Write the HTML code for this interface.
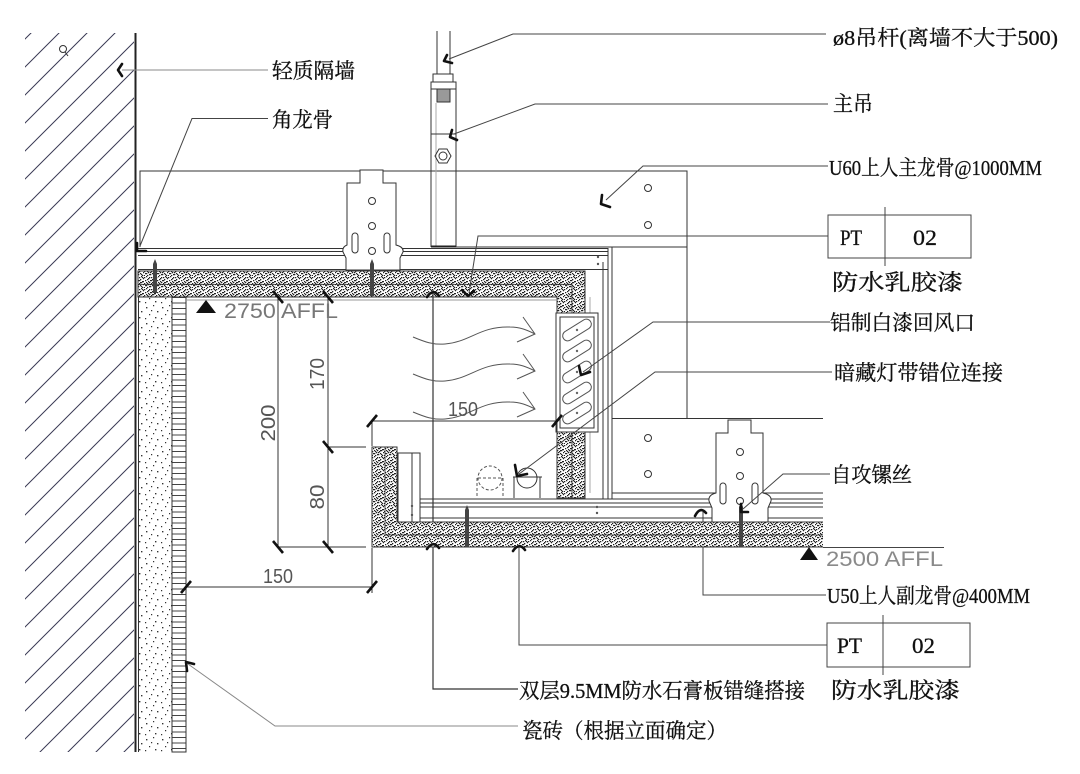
<!DOCTYPE html>
<html><head><meta charset="utf-8"><style>
html,body{margin:0;padding:0;background:#fff;}
svg{display:block;}
.l{stroke:#333;stroke-width:1;fill:none}
.lg{stroke:#888;stroke-width:1;fill:none}
.ld{stroke:#444;stroke-width:1;fill:none}
.ar{stroke:#111;stroke-width:2.6;fill:none;stroke-linecap:round;stroke-linejoin:round}
.tk{stroke:#111;stroke-width:2.6;fill:none;stroke-linecap:butt}
.t{font-family:"Liberation Serif","Noto Serif CJK SC",serif;font-size:21px;fill:#111;stroke:#111;stroke-width:0.3}
.g{font-family:"Liberation Sans","DejaVu Sans",sans-serif;fill:#8a8a8a;font-size:21px}
.d{font-family:"Liberation Sans","DejaVu Sans",sans-serif;fill:#555;font-size:20px}
</style></head><body>
<svg width="1080" height="774" viewBox="0 0 1080 774" xmlns="http://www.w3.org/2000/svg">
<defs>
<pattern id="hatch" width="28" height="28" patternUnits="userSpaceOnUse" patternTransform="translate(8,0)">
<path d="M-2,30 L30,-2 M-16,16 L16,-16 M12,44 L44,12" stroke="#3a3a55" stroke-width="1"/>
</pattern>
<pattern id="sp" width="12" height="12" patternUnits="userSpaceOnUse">
<rect width="12" height="12" fill="#fff"/>
<path fill="#222" d="M0 1h1.3v1.3h-1.3zM2 0h1.3v1.3h-1.3zM4 2h1.3v1.3h-1.3zM7 1h1.3v1.3h-1.3zM9 0h1.3v1.3h-1.3zM11 2h1v1.3h-1zM1 4h1.3v1.3h-1.3zM3 3h1.3v1.3h-1.3zM6 4h1.3v1.3h-1.3zM8 3h1.3v1.3h-1.3zM10 5h1.3v1.3h-1.3zM0 7h1.3v1.3h-1.3zM2 6h1.3v1.3h-1.3zM5 6h1.3v1.3h-1.3zM7 7h1.3v1.3h-1.3zM9 6h1.3v1.3h-1.3zM11 8h1v1.3h-1zM1 9h1.3v1.3h-1.3zM4 8h1.3v1.3h-1.3zM6 10h1.3v1.3h-1.3zM8 9h1.3v1.3h-1.3zM10 11h1.3v1h-1.3zM3 11h1.3v1h-1.3zM5 1h1.3v1.3h-1.3zM7 4h1.3v1.3h-1.3zM2 9h1.3v1.3h-1.3zM9 10h1.3v1.3h-1.3zM11 5h1v1.3h-1zM4 5h1.3v1.3h-1.3zM6 8h1.3v1.3h-1.3zM8 6h1.3v1.3h-1.3zM3 7h1.3v1.3h-1.3zM10 1h1.3v1.3h-1.3zM5 10h1.3v1.3h-1.3zM0 11h1v1h-1z"/>
</pattern>
<pattern id="pl" width="16" height="16" patternUnits="userSpaceOnUse">
<rect width="16" height="16" fill="#fff"/>
<path fill="#333" d="M2 3h1.4v1.4h-1.4zM9 1h1.2v1.2h-1.2zM13 7h1.4v1.4h-1.4zM5 10h1.2v1.2h-1.2zM11 13h1.4v1.4h-1.4zM1 14h1.2v1.2h-1.2zM7 6h1.2v1.2h-1.2z"/>
</pattern>
<pattern id="tl" width="14" height="5.5" patternUnits="userSpaceOnUse" patternTransform="translate(172,297)">
<rect width="14" height="5.5" fill="#fff"/>
<path d="M0,0.5 H14" stroke="#444" stroke-width="1"/>
</pattern>
</defs>

<!-- wall hatch -->
<rect x="25" y="33" width="109" height="719" fill="url(#hatch)"/>
<circle cx="63" cy="49" r="3.5" class="l"/>
<path d="M65,52 L68,56" class="l"/>
<path d="M135.5,33 V752" stroke="#222" stroke-width="2" fill="none"/>
<path d="M138.5,297 V752" class="l"/>

<!-- left finishes -->
<rect x="139" y="297" width="33" height="455" fill="url(#pl)"/>
<rect x="172" y="297" width="14" height="455" fill="url(#tl)" stroke="#333" stroke-width="1"/>

<!-- upper main keel -->
<path d="M140,247 V171 H687 V418" class="l"/>
<path d="M456,247 H687" class="l"/>
<circle cx="648" cy="188" r="3.5" class="l"/>
<circle cx="648" cy="225" r="3.5" class="l"/>

<!-- upper channel -->
<path d="M138,248.5 H608 M138,251.5 H608 M138,255.5 H608 M138,269.5 H608 M608,248 V270" class="l"/>
<circle cx="598" cy="257" r="1.2" fill="#555"/><circle cx="598" cy="264" r="1.2" fill="#555"/>
<path d="M137,243 V251 H146" class="ar"/>

<!-- hanger rod & hanger -->
<path d="M437,31 V74 M450,31 V74" class="l"/>
<rect x="433" y="74" width="20" height="8" class="l" style="fill:#fff"/>
<rect x="431" y="82" width="25" height="7" class="l" style="fill:#fff"/>
<rect x="437" y="89" width="13" height="13" style="fill:#999;stroke:#333"/>
<path d="M431,89 V247 M456,89 V247" class="l"/>
<path d="M436,103 V247" stroke="#aaa" fill="none"/>
<path d="M431,134 H456" class="l"/>
<polygon points="451,156 447,163 439,163 435,156 439,149 447,149" class="l"/>
<circle cx="443" cy="156" r="4" class="l"/>
<path d="M431,246.5 H456" stroke="#222" stroke-width="2"/>

<!-- upper clip -->
<path d="M360,170 H383 V183 H396 V245 Q404,247 403,252 L400,258 V270 H346 V258 L343,252 Q342,247 347,245 V183 H360 Z" class="l" style="fill:#fff"/>
<circle cx="372" cy="201" r="3.5" class="l"/>
<circle cx="372" cy="226" r="3.5" class="l"/>
<circle cx="372" cy="251" r="3.5" class="l"/>
<rect x="352" y="233" width="6" height="20" rx="3" class="l"/>
<rect x="384" y="233" width="6" height="20" rx="3" class="l"/>

<!-- vertical channel right of soffit -->
<path d="M603,262 V499 M608,262 V499 M612,247 V499" class="l"/>
<path d="M590,297 V493" stroke="#aaa" fill="none"/>

<!-- upper boards -->
<path d="M138,271 H585 V498 H557 V297 H138 Z" class="l" style="fill:url(#sp)"/>
<path d="M138,284.5 H572 V498" stroke="#222" stroke-width="0.8" fill="none"/>
<path d="M186,300 H557" stroke="#999" fill="none"/>

<!-- upper screws -->
<path d="M155,259 L157,264 V293 H153 V264 Z" fill="#444"/>
<path d="M372,259 L374,264 V296 H370 V264 Z" fill="#444"/>

<!-- grille -->
<rect x="556" y="313" width="42" height="119" class="l" style="fill:#fff"/>
<rect x="560" y="317" width="34" height="111" class="l"/>
<g fill="none" stroke="#555" stroke-width="1">
<rect x="-16" y="-5" width="32" height="10" rx="5" transform="translate(577,330) rotate(-32)"/>
<rect x="-16" y="-5" width="32" height="10" rx="5" transform="translate(577,351) rotate(-32)"/>
<rect x="-16" y="-5" width="32" height="10" rx="5" transform="translate(577,372) rotate(-32)"/>
<rect x="-16" y="-5" width="32" height="10" rx="5" transform="translate(577,393) rotate(-32)"/>
<rect x="-16" y="-5" width="32" height="10" rx="5" transform="translate(577,413) rotate(-32)"/>
</g>
<g fill="#666"><circle cx="577" cy="330" r="1.2"/><circle cx="577" cy="351" r="1.2"/><circle cx="577" cy="372" r="1.2"/><circle cx="577" cy="393" r="1.2"/><circle cx="577" cy="413" r="1.2"/></g>

<!-- lower main keel -->
<path d="M612,418.5 H823 M612,493 H823" class="l"/>
<circle cx="648" cy="438" r="3.5" class="l"/>
<circle cx="648" cy="474" r="3.5" class="l"/>

<!-- leaders (behind boards) -->
<path d="M703,512 V595 H826" class="ld"/>
<path d="M519,547 V645 H827" class="ld"/>
<path d="M433,290 V689 H518" stroke="#333" stroke-width="1.2" fill="none"/>

<!-- lower channel -->
<path d="M420,499 H823 M420,503 H823 M420,507 H823 M420,518 H823" class="l"/>
<circle cx="597" cy="507" r="1.2" fill="#555"/><circle cx="597" cy="513" r="1.2" fill="#555"/>
<rect x="398" y="453" width="22" height="70" class="l" style="fill:#fff"/>
<path d="M412,453 V522" class="l"/>
<circle cx="412" cy="506" r="1.2" fill="#555"/><circle cx="412" cy="515" r="1.2" fill="#555"/>

<!-- lower clip -->
<path d="M728,420 H751 V433 H763 V493 Q772,495 771,501 L768,508 V522 H712 V508 L709,501 Q708,495 716,493 V433 H728 Z" class="l" style="fill:#fff"/>
<circle cx="740" cy="452" r="3.5" class="l"/>
<circle cx="740" cy="476" r="3.5" class="l"/>
<circle cx="740" cy="501" r="3.5" class="l"/>
<rect x="720" y="483" width="6" height="21" rx="3" class="l"/>
<rect x="752" y="483" width="6" height="21" rx="3" class="l"/>

<!-- lower boards -->
<path d="M372,447 H397 V522 H823 V547 H372 Z" fill="url(#sp)"/>
<path d="M823,522 H397 V447 H372 V547 H823" class="l"/>
<path d="M385,447 V535 H823" stroke="#222" stroke-width="0.8" fill="none"/>

<!-- lower screws -->
<path d="M467,505 L469,510 V547 H465 V510 Z" fill="#444"/>
<path d="M741,502 L743,507 V547 H739 V507 Z" fill="#444"/>

<!-- light fixture -->
<circle cx="490" cy="478" r="12" fill="none" stroke="#555" stroke-dasharray="3,2"/>
<path d="M477,478 V498 M503,478 V498 M478,478 H502" stroke="#555" stroke-dasharray="3,2" fill="none"/>
<circle cx="527" cy="478" r="10" class="l"/>
<path d="M513,477 H542 M514,477 V498 M540,477 V498" class="l"/>

<!-- airflow -->
<g fill="none" stroke="#555" stroke-width="1">
<path d="M413,337 C425,342 433,345 445,344 C470,342 480,326 510,327 C520,327 527,330 535,334 M523,317 L535,334 L517,342"/>
<path d="M413,374 C425,379 433,382 445,381 C470,379 480,363 510,364 C520,364 527,367 535,371 M523,354 L535,371 L517,379"/>
<path d="M413,412 C425,417 433,420 445,419 C470,417 480,401 510,402 C520,402 527,405 535,409 M523,392 L535,409 L517,417"/>
</g>

<!-- dimensions -->
<g class="l" stroke="#555">
<path d="M278,297 V547 M328,297 V547 M278,547 H366 M328,447 H366"/>
<path d="M372,421 H557 M372,421 V446 M557,421 V432"/>
<path d="M186,587 H372 M372,548 V593"/>
</g>
<g class="tk">
<path d="M273,291 L283,303 M323,291 L333,303 M323,441 L333,453 M273,541 L283,553 M323,541 L333,553"/>
<path d="M367,427 L377,415 M552,427 L562,415 M181,593 L191,581 M367,593 L377,581"/>
</g>
<text class="d" text-anchor="middle" textLength="37" lengthAdjust="spacingAndGlyphs" transform="translate(275,423) rotate(-90)">200</text>
<text class="d" text-anchor="middle" textLength="32" lengthAdjust="spacingAndGlyphs" transform="translate(324,374) rotate(-90)">170</text>
<text class="d" text-anchor="middle" textLength="25" lengthAdjust="spacingAndGlyphs" transform="translate(324,497) rotate(-90)">80</text>
<text class="d" x="448" y="416" textLength="30" lengthAdjust="spacingAndGlyphs">150</text>
<text class="d" x="263" y="583" textLength="30" lengthAdjust="spacingAndGlyphs">150</text>

<!-- level marks -->
<polygon points="206,300 196,313 216,313" fill="#111"/>
<text class="g" x="224" y="318" textLength="114" lengthAdjust="spacingAndGlyphs" style="fill:#777">2750 AFFL</text>
<path d="M823,547.5 H944" class="ld"/>
<polygon points="809,547 800,560 818,560" fill="#111"/>
<text class="g" x="826" y="566" textLength="117" lengthAdjust="spacingAndGlyphs">2500 AFFL</text>

<!-- leader lines -->
<path d="M122,70 H268" class="lg"/>
<path d="M268,118.5 H192 L140,246" class="ld"/>
<path d="M449,59 L513,34 H826" class="ld"/>
<path d="M454,134 L535,104 H828" class="ld"/>
<path d="M606,200 L643,166 H828" class="ld"/>
<path d="M469,293 L478,236 H828" class="ld"/>
<path d="M583,372 L653,322 H830" class="ld"/>
<path d="M519,474 L655,372 H832" class="ld"/>
<path d="M743,509 L783,474 H830" class="ld"/>
<path d="M188,664 L275,726 H518" class="lg"/>

<!-- arrowheads -->
<path d="M122,64 L118,70 L122,76" class="ar"/>
<path d="M447,55 L444,61 L452,63" class="ar"/>
<path d="M452,130 L450,137 L457,140" class="ar"/>
<path d="M602,195 L601,204 L610,207" class="ar"/>
<path d="M462,290 L468,296 L474,291" class="ar"/>
<path d="M427,297 Q433,288 439,296" class="ar"/>
<path d="M427,549 Q433,540 439,548" class="ar"/>
<path d="M513,551 Q519,542 525,550" class="ar"/>
<path d="M695,516 Q700,506 706,513" class="ar"/>
<path d="M579,366 L581,375 L590,372" class="ar"/>
<path d="M515,465 L517,476 L527,474" class="ar"/>
<path d="M741,504 L741,512 L748,512" class="ar"/>
<path d="M187,671 L186,662 L194,664" class="ar"/>

<!-- PT boxes -->
<rect x="828" y="215" width="143" height="43" class="ld"/>
<path d="M885,207 V266" class="ld"/>
<rect x="827" y="623" width="143" height="44" class="ld"/>
<path d="M883,615 V675" class="ld"/>

<!-- labels -->
<text class="t" x="272" y="78" textLength="83" lengthAdjust="spacingAndGlyphs">轻质隔墙</text>
<text class="t" x="272" y="127" textLength="61" lengthAdjust="spacingAndGlyphs">角龙骨</text>
<text class="t" x="833" y="45" textLength="225" lengthAdjust="spacingAndGlyphs">ø8吊杆(离墙不大于500)</text>
<text class="t" x="833" y="111" textLength="40" lengthAdjust="spacingAndGlyphs">主吊</text>
<text class="t" x="829" y="175" textLength="213" lengthAdjust="spacingAndGlyphs">U60上人主龙骨@1000MM</text>
<text class="t" x="840" y="245" textLength="22" lengthAdjust="spacingAndGlyphs" style="font-size:22px">PT</text>
<text class="t" x="913" y="245" textLength="24" lengthAdjust="spacingAndGlyphs" style="font-size:22px">02</text>
<text class="t" x="832" y="290" textLength="131" lengthAdjust="spacingAndGlyphs" style="font-size:22px">防水乳胶漆</text>
<text class="t" x="830" y="330" textLength="145" lengthAdjust="spacingAndGlyphs">铝制白漆回风口</text>
<text class="t" x="834" y="380" textLength="169" lengthAdjust="spacingAndGlyphs">暗藏灯带错位连接</text>
<text class="t" x="831" y="482" textLength="81" lengthAdjust="spacingAndGlyphs">自攻镙丝</text>
<text class="t" x="827" y="603" textLength="203" lengthAdjust="spacingAndGlyphs">U50上人副龙骨@400MM</text>
<text class="t" x="837" y="653" textLength="25" lengthAdjust="spacingAndGlyphs" style="font-size:22px">PT</text>
<text class="t" x="912" y="653" textLength="23" lengthAdjust="spacingAndGlyphs" style="font-size:22px">02</text>
<text class="t" x="831" y="698" textLength="129" lengthAdjust="spacingAndGlyphs" style="font-size:22px">防水乳胶漆</text>
<text class="t" x="519" y="698" textLength="286" lengthAdjust="spacingAndGlyphs">双层9.5MM防水石膏板错缝搭接</text>
<text class="t" x="522" y="738" textLength="205" lengthAdjust="spacingAndGlyphs">瓷砖（根据立面确定）</text>
</svg>
</body></html>
